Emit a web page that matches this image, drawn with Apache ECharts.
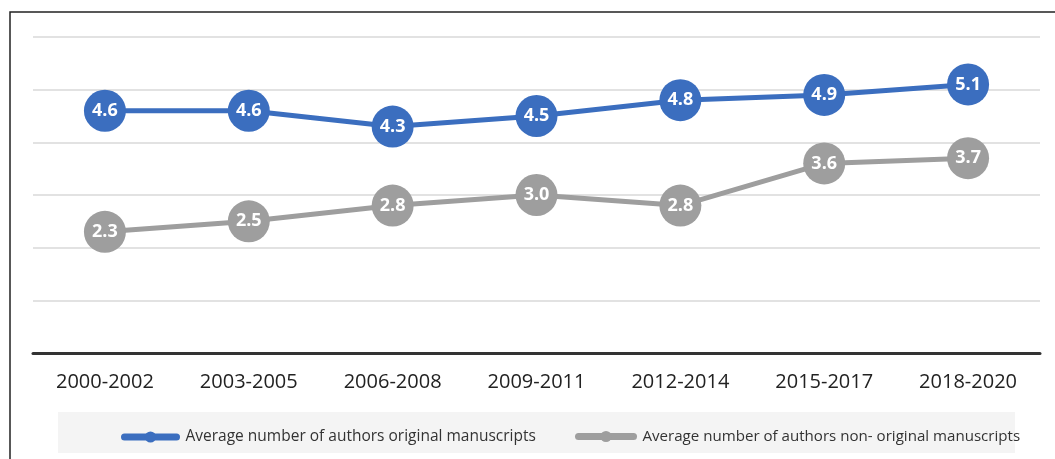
<!DOCTYPE html>
<html>
<head>
<meta charset="utf-8">
<style>html,body{margin:0;padding:0;background:#fff}#c{width:1055px;height:459px}</style>
<script src="https://cdn.jsdelivr.net/npm/echarts@6/dist/echarts.min.js"></script>
</head>
<body>
<div id="c"></div>
<script>
const categories = ['2000-2002','2003-2005','2006-2008','2009-2011','2012-2014','2015-2017','2018-2020'];
const originalValues = [4.6, 4.6, 4.3, 4.5, 4.8, 4.9, 5.1];
const nonOriginalValues = [2.3, 2.5, 2.8, 3.0, 2.8, 3.6, 3.7];
const seriesNames = ['Average number of authors original manuscripts', 'Average number of authors non- original manuscripts'];

const FONT = '"Open Sans", "Noto Sans", sans-serif';
const chart = echarts.init(document.getElementById('c'));
function lineSeries(name, data, color) {
  return {
    name: name, type: 'line', data: data,
    symbol: 'circle', symbolSize: 42,
    lineStyle: { color: color, width: 5 },
    itemStyle: { color: color },
    label: { show: true, position: 'inside', color: '#fff', fontFamily: FONT, fontWeight: 'bold', fontSize: 18,
      formatter: p => p.value.toFixed(1) },
    emphasis: { disabled: true },
    z: 3
  };
}
chart.setOption({
  animation: false,
  graphic: [
    { type: 'rect', shape: { x: 10, y: 12, width: 1100, height: 500 }, style: { fill: 'none', stroke: '#222', lineWidth: 1.5 }, z: -10 },
    { type: 'rect', shape: { x: 58, y: 412, width: 957, height: 41 }, style: { fill: '#f4f4f4' }, z: -9 }
  ],
  grid: { left: 33, right: 15, top: 37, bottom: 106 },
  xAxis: {
    type: 'category', data: categories, boundaryGap: true,
    axisLine: { lineStyle: { color: '#333', width: 3 } },
    axisTick: { show: false },
    axisLabel: { color: '#222', fontFamily: FONT, fontSize: 20, margin: 19 }
  },
  yAxis: {
    type: 'value', min: 0, max: 6, interval: 1,
    axisLabel: { show: false }, axisLine: { show: false }, axisTick: { show: false },
    splitLine: { lineStyle: { color: '#d9d9d9', width: 1.5 } }
  },
  legend: [
    { data: [seriesNames[0]], left: 116, top: 424, itemWidth: 52, itemHeight: 14, itemGap: 0,
      lineStyle: { width: 7, cap: 'round' },
      textStyle: { fontFamily: FONT, fontSize: 15.5, color: '#333', padding: [0, 0, 0, 4] } },
    { data: [seriesNames[1]], left: 570, top: 424, itemWidth: 55, itemHeight: 14, itemGap: 0,
      lineStyle: { width: 7, cap: 'round' },
      textStyle: { fontFamily: FONT, fontSize: 15.1, color: '#333', padding: [0, 0, 0, 4] } }
  ],
  series: [
    lineSeries(seriesNames[0], originalValues, '#3b6ebf'),
    lineSeries(seriesNames[1], nonOriginalValues, '#9e9e9e')
  ]
});
</script>
</body>
</html>
